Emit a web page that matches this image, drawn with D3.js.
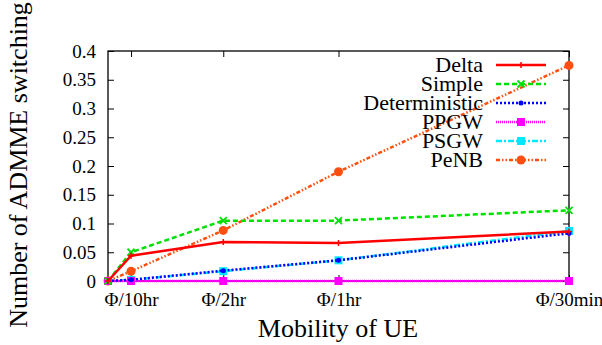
<!DOCTYPE html>
<meta charset="utf-8">
<script src="https://d3js.org/d3.v7.min.js"></script>
<style>
  body { margin: 0; background: #fff; }
  svg, svg text { font-family: "Liberation Serif", "Times New Roman", Times, serif !important; fill: #000; }
</style>
<div id="my_dataviz"></div>
<script>

// mobility (changes per hour) and tick labels
var mobility = [0, 0.1, 0.5, 1, 2];
var tickValues = [0.1, 0.5, 1, 2];
var tickLabels = ["Φ/10hr", "Φ/2hr", "Φ/1hr", "Φ/30min"];
var yTicks = [0, 0.05, 0.1, 0.15, 0.2, 0.25, 0.3, 0.35, 0.4];

var seriesNames = ["Delta", "Simple", "Deterministic", "PPGW", "PSGW", "PeNB"];
var delta         = [0, 0.044, 0.068, 0.066, 0.086];
var simple        = [0, 0.050, 0.105, 0.105, 0.123];
var deterministic = [0, 0.002, 0.018, 0.036, 0.083];
var ppgw          = [0, 0, 0, 0, 0];
var psgw          = [0, 0.002, 0.017, 0.036, 0.087];
var penb          = [0, 0.017, 0.088, 0.190, 0.375];

var seriesValues = [delta, simple, deterministic, ppgw, psgw, penb];
var colors = ["#ff0000", "#00e000", "#0000ff", "#ff00ff", "#00e8ff", "#ff4f10"];
var dashes = [null, "5,3", "2,2", "1,1", "6,2,2,2", "4,2,1.5,2,1.5,2"];
var markers = ["plus", "cross", "star", "square", "square", "circle"];

var fontFam = "'Liberation Serif', 'Times New Roman', serif";

var margin = {top: 51, right: 33, bottom: 64, left: 108},
    width = 602 - margin.left - margin.right,
    height = 345 - margin.top - margin.bottom;

var svg = d3.select("#my_dataviz")
  .append("svg")
    .attr("width", 602)
    .attr("height", 345)
    .style("font-family", fontFam)
  .append("g")
    .attr("transform", "translate(" + margin.left + "," + margin.top + ")");

var x = d3.scaleLinear().domain([0, 2]).range([0, width]);
var y = d3.scaleLinear().domain([0, 0.4]).range([height, 0]);

// axes with mirrored ticks
var xAxis = svg.append("g")
  .attr("transform", "translate(0," + height + ")")
  .call(d3.axisBottom(x).tickValues(tickValues).tickSize(-6).tickPadding(12)
    .tickFormat(function (d, i) { return tickLabels[i]; }));
var xTop = svg.append("g")
  .call(d3.axisTop(x).tickValues(tickValues).tickSize(-6).tickFormat(""));
var yAxis = svg.append("g")
  .call(d3.axisLeft(y).tickValues(yTicks).tickSize(-6).tickPadding(12)
    .tickFormat(function (d) { return d3.format("")(+d.toFixed(2)); }));
var yRight = svg.append("g")
  .attr("transform", "translate(" + width + ",0)")
  .call(d3.axisRight(y).tickValues(yTicks).tickSize(-6).tickFormat(""));

[xAxis, xTop, yAxis, yRight].forEach(function (a) {
  a.attr("font-family", fontFam).attr("font-size", 19);
  a.select(".domain").remove();
  a.selectAll("line").attr("stroke", "#000");
  a.selectAll("text").style("font-family", fontFam);
});

svg.append("rect")
  .attr("width", width).attr("height", height)
  .attr("fill", "none").attr("stroke", "#000").attr("stroke-width", 1.3);

// axis titles
svg.append("text")
  .attr("text-anchor", "middle")
  .attr("x", 230)
  .attr("y", height + 56)
  .attr("font-size", 26)
  .style("font-family", fontFam)
  .text("Mobility of UE");

svg.append("text")
  .attr("text-anchor", "middle")
  .attr("transform", "translate(" + (-81) + "," + 114 + ") rotate(-90)")
  .attr("font-size", 26)
  .style("font-family", fontFam)
  .text("Number of ADMME switching");

function drawMarker(g, type, color, cx, cy) {
  if (type === "plus") {
    g.append("path").attr("d", "M" + (cx - 3) + "," + cy + "h6M" + cx + "," + (cy - 3) + "v6")
      .attr("stroke", color).attr("stroke-width", 1.5);
  } else if (type === "cross") {
    g.append("path").attr("d", "M" + (cx - 3.5) + "," + (cy - 3.5) + "l7,7M" + (cx - 3.5) + "," + (cy + 3.5) + "l7,-7")
      .attr("stroke", color).attr("stroke-width", 1.8);
  } else if (type === "star") {
    g.append("circle").attr("cx", cx).attr("cy", cy).attr("r", 2.5).attr("fill", color);
  } else if (type === "square") {
    g.append("rect").attr("x", cx - 4).attr("y", cy - 4).attr("width", 8).attr("height", 8).attr("fill", color);
  } else {
    g.append("circle").attr("cx", cx).attr("cy", cy).attr("r", 4.5).attr("fill", color);
  }
}

var line = d3.line()
  .x(function (d, i) { return x(mobility[i]); })
  .y(function (d) { return y(d); });

// draw in reverse so Delta is on top
for (var s = seriesValues.length - 1; s >= 0; s--) {
  var g = svg.append("g");
  g.append("path")
    .datum(seriesValues[s])
    .attr("d", line)
    .attr("fill", "none")
    .attr("stroke", colors[s])
    .attr("stroke-width", 2.5)
    .attr("stroke-dasharray", dashes[s]);
  seriesValues[s].forEach(function (v, i) {
    drawMarker(g, markers[s], colors[s], x(mobility[i]), y(v));
  });
}

// legend
var legend = svg.append("g");
seriesNames.forEach(function (name, i) {
  var ly = 14 + i * 19;
  legend.append("text")
    .attr("x", 375).attr("y", ly + 7)
    .attr("text-anchor", "end")
    .attr("font-size", 22)
    .style("font-family", fontFam)
    .text(name);
  legend.append("line")
    .attr("x1", 388).attr("x2", 438).attr("y1", ly).attr("y2", ly)
    .attr("stroke", colors[i]).attr("stroke-width", 2.5)
    .attr("stroke-dasharray", dashes[i]);
  drawMarker(legend, markers[i], colors[i], 413, ly);
});

</script>
